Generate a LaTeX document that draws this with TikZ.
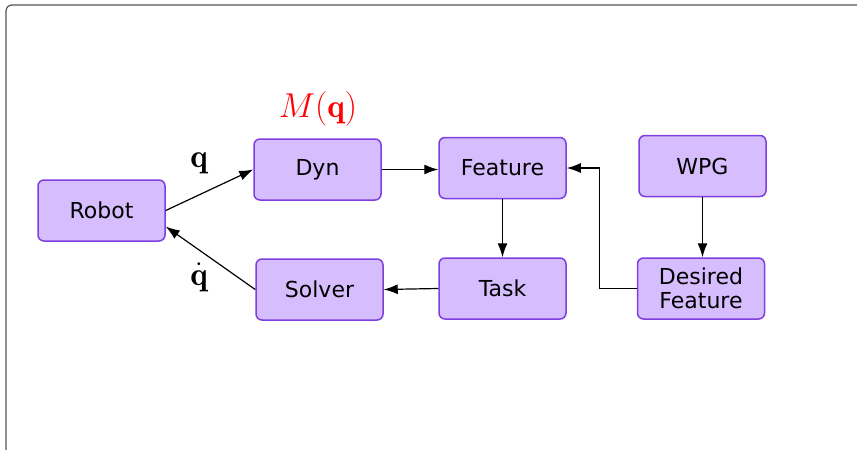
\documentclass[tikz,border=0pt]{standalone}
\usepackage{fontspec}
\setsansfont{DejaVu Sans}
\usetikzlibrary{shapes,arrows.meta,positioning}
\usepackage{xcolor}
\definecolor{blockfill}{RGB}{214,189,253}
\definecolor{blockdraw}{RGB}{127,62,224}
\definecolor{framegray}{RGB}{85,85,85}

\begin{document}
\begin{tikzpicture}[
    x=0.5pt, y=-0.5pt,
    block/.style={rectangle, rounded corners=3pt, draw=blockdraw, fill=blockfill,
                  line width=0.75pt, minimum width=63.5pt, minimum height=30.5pt,
                  align=center, font=\sffamily\fontsize{11}{12}\selectfont},
    mathlbl/.style={font=\fontsize{16.5}{20}\selectfont},
    arrow/.style={-{Latex[length=7pt,width=5pt]}, line width=0.6pt}
]
\useasboundingbox (0,0) rectangle (857,450);

% Frame
\draw[framegray, line width=0.6pt, rounded corners=3pt] (6,450) -- (6,5) -- (857,5);

% Blocks
\node[block] (robot) at (101.5,210.5) {Robot};
\node[block] (dyn) at (317.5,169.5) {Dyn};
\node[block] (feature) at (502.5,168) {Feature};
\node[block] (wpg) at (702.5,166) {WPG};
\node[block] (solver) at (319.5,289.5) {Solver};
\node[block] (task) at (502.5,288.5) {Task};
\node[block] (desired) at (701,288.5) {Desired\\Feature};

% Labels
\node[mathlbl, red] (lmass) at (318,109) {$M(\mathbf{q})$};
\node[mathlbl] (lq) at (199,163) {$\mathbf{q}$};
\node[mathlbl] (lqdot) at (199,277) {$\dot{\mathbf{q}}$};

% Arrows
\draw[arrow] (robot.east) -- (dyn.west);
\draw[arrow] (solver.west) -- (robot.-14);
\draw[arrow] (dyn.east) -- (dyn.east -| feature.west);
\draw[arrow] (feature.south) -- (task.north);
\draw[arrow] (task.west) -- (solver.east);
\draw[arrow] (wpg.south) -- (wpg.south |- desired.north);
\draw[arrow] (desired.west) -- ++(-37,0) |- (feature.east);

\end{tikzpicture}
\end{document}
